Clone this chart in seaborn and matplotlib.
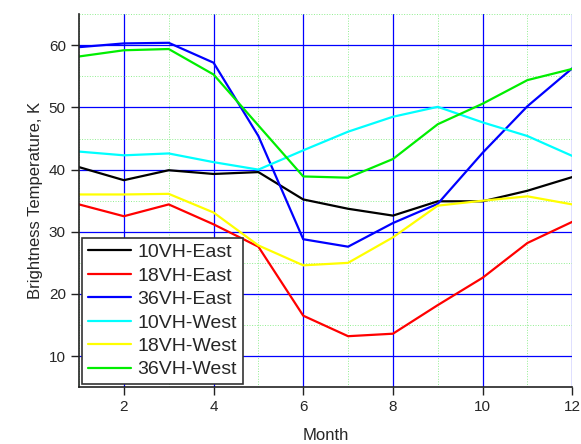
import matplotlib
matplotlib.use("Agg")
import matplotlib.pyplot as plt
import numpy as np
import pandas as pd
import seaborn as sns
from matplotlib.ticker import MultipleLocator

months = list(range(1, 13))

east_10vh = [40.4, 38.3, 39.9, 39.3, 39.6, 35.2, 33.7, 32.6, 34.9, 34.9, 36.6, 38.8]
east_18vh = [34.4, 32.5, 34.4, 31.2, 27.6, 16.5, 13.2, 13.6, 18.2, 22.6, 28.2, 31.6]
east_36vh = [59.7, 60.3, 60.4, 57.2, 45.4, 28.8, 27.6, 31.4, 34.5, 42.7, 50.2, 56.3]
west_10vh = [42.9, 42.3, 42.6, 41.2, 40.0, 43.1, 46.1, 48.5, 50.1, 47.6, 45.4, 42.2]
west_18vh = [36.0, 36.0, 36.1, 33.1, 27.8, 24.6, 25.0, 29.1, 34.2, 35.0, 35.7, 34.4]
west_36vh = [58.2, 59.2, 59.4, 55.3, 47.1, 38.9, 38.7, 41.7, 47.3, 50.6, 54.4, 56.2]

series = {
    "10VH-East": east_10vh,
    "18VH-East": east_18vh,
    "36VH-East": east_36vh,
    "10VH-West": west_10vh,
    "18VH-West": west_18vh,
    "36VH-West": west_36vh,
}
colors = ["#000000", "#ff0000", "#0000ff", "#00ffff", "#ffff00", "#00ee00"]

df = pd.DataFrame(
    [(name, m, v) for name, vals in series.items() for m, v in zip(months, vals)],
    columns=["series", "month", "value"],
)

sns.set_style("white")
plt.rcParams["font.family"] = ["Liberation Sans", "DejaVu Sans"]

fig = plt.figure(figsize=(5.81, 4.44), dpi=100)
ax = fig.add_axes([0.136, 0.128, 0.849, 0.84])

sns.lineplot(data=df, x="month", y="value", hue="series",
             palette=colors, linewidth=1.6, ax=ax)

ax.set_xlim(1, 12)
ax.set_ylim(5, 65)
ax.xaxis.set_major_locator(MultipleLocator(2))
ax.xaxis.set_minor_locator(MultipleLocator(1))
ax.yaxis.set_major_locator(MultipleLocator(10))
ax.yaxis.set_minor_locator(MultipleLocator(5))
ax.set_yticks([10, 20, 30, 40, 50, 60])

ax.grid(True, which="major", color="#0000ff", linewidth=0.9, linestyle="-")
ax.grid(True, which="minor", color="#90ee90", linewidth=0.7, linestyle=":")
ax.set_axisbelow(True)

for side in ["top", "right"]:
    ax.spines[side].set_visible(False)
for side in ["left", "bottom"]:
    ax.spines[side].set_color("#222222")
    ax.spines[side].set_linewidth(1.2)

ax.tick_params(which="both", direction="out", color="#222222", labelsize=11)
ax.tick_params(which="major", length=6, width=1)
ax.tick_params(which="minor", length=4, width=1)
ax.tick_params(axis="both", left=True, bottom=True)

ax.set_xlabel("Month", fontsize=12, labelpad=10)
ax.set_ylabel("Brightness Temperature, K", fontsize=12, labelpad=4)

leg = ax.legend(loc="lower left", fontsize=14, frameon=True, fancybox=False,
                edgecolor="#333333", framealpha=1, borderaxespad=0.15,
                handlelength=2.2, handletextpad=0.35, labelspacing=0.3,
                borderpad=0.3)
leg.get_frame().set_linewidth(1.2)

fig.savefig("out.png", dpi=100)
